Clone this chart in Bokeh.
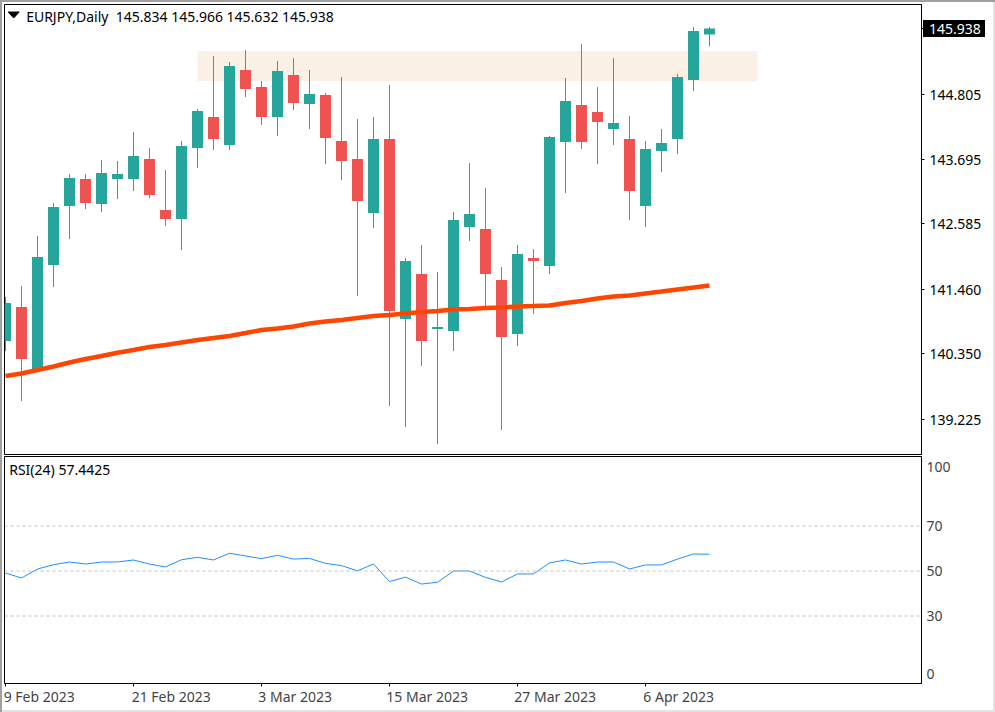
from bokeh.plotting import figure
from bokeh.layouts import column
from bokeh.models import ColumnDataSource, Div, FixedTicker, Label, Range1d, Span
from bokeh.embed import file_html
from bokeh.resources import INLINE

FONT = "Noto Sans"
FS = "14px"
UP = "#26A69A"
DOWN = "#EF5350"

opens = [140.569,141.153,140.088,141.875,142.889,143.352,142.923,143.352,143.352,143.696,
         142.820,142.665,143.885,144.418,143.937,145.225,144.933,144.418,145.139,144.641,
         144.796,144.005,143.696,142.768,144.040,140.947,141.720,140.775,140.741,142.528,
         142.493,141.617,140.689,141.995,141.858,143.988,144.624,144.504,144.212,144.040,
         142.889,143.834,144.040,145.053,145.834]
highs = [141.325,141.514,142.373,142.940,143.438,143.438,143.679,143.662,144.160,143.885,
         143.507,144.005,144.555,145.466,145.363,145.569,145.036,145.380,145.431,145.225,
         144.830,145.105,144.383,144.418,144.968,141.995,142.218,141.754,142.785,143.627,
         143.198,141.840,142.218,142.150,144.091,145.088,145.672,144.933,145.431,144.435,
         144.005,144.212,145.157,145.964,145.966]
lows = [140.397,139.538,140.088,141.497,142.322,142.837,142.785,143.009,143.146,143.026,
        142.545,142.132,143.541,143.851,143.851,144.761,144.280,144.091,144.538,144.212,
        143.610,143.335,141.342,142.511,139.452,139.091,140.139,138.799,140.397,142.287,
        141.170,139.040,140.483,141.033,141.720,143.112,143.868,143.610,143.937,142.648,
        142.528,143.473,143.782,144.864,145.632]
closes = [141.222,140.260,142.012,142.871,143.370,142.940,143.456,143.438,143.748,143.078,
          142.665,143.919,144.521,144.040,145.294,144.899,144.418,145.208,144.658,144.813,
          144.057,143.662,142.974,144.040,141.084,141.944,140.569,140.809,142.648,142.751,
          141.720,140.638,142.064,141.944,144.074,144.693,143.988,144.332,144.315,143.146,
          143.868,143.971,145.105,145.895,145.938]
ma = [139.968,140.011,140.071,140.131,140.200,140.260,140.311,140.368,140.414,140.466,
      140.500,140.543,140.586,140.620,140.655,140.706,140.758,140.784,140.818,140.870,
      140.904,140.930,140.964,140.998,141.016,141.041,141.067,141.084,141.110,141.119,
      141.136,141.145,141.162,141.170,141.179,141.222,141.256,141.299,141.333,141.351,
      141.385,141.419,141.454,141.488,141.523]
rsi = [49.1,46.9,50.9,52.8,54.0,53.1,54.0,54.0,54.9,53.1,
       51.8,55.0,56.1,54.9,57.9,56.7,55.5,57.0,55.3,55.6,
       53.4,52.4,50.1,53.1,45.3,47.3,44.2,45.0,50.0,50.0,
       47.2,45.1,48.7,48.7,53.6,54.9,53.1,54.0,54.0,50.9,
       52.7,52.7,55.3,57.6,57.44]
price_ticks = [144.805,143.695,142.585,141.460,140.350,139.225]
rsi_levels = [30,50,70]
date_ticks = [0,8,16,24,32,40]
date_label_centres = [2.106,10.356,18.106,26.356,34.356,42.075]
date_labels = ["9 Feb 2023","21 Feb 2023","3 Mar 2023","15 Mar 2023","27 Mar 2023","6 Apr 2023"]
zone_price = (145.036,145.552)
zone_bars = (12.0,47.0)
x_range = (-0.0625,57.25)
y_range = (138.619,146.351)

idx = list(range(len(opens)))
colors = [UP if c >= o else DOWN for o, c in zip(opens, closes)]
src = ColumnDataSource(dict(x=idx, top=[max(o, c) for o, c in zip(opens, closes)],
                            bottom=[min(o, c) for o, c in zip(opens, closes)],
                            high=highs, low=lows, color=colors))

p1 = figure(width=995, height=455, frame_width=917, frame_height=450,
            output_backend="svg", toolbar_location=None, x_axis_location=None,
            y_axis_location="right", x_range=Range1d(*x_range), y_range=Range1d(*y_range),
            min_border_left=4, min_border_right=74, min_border_top=4, min_border_bottom=1,
            border_fill_color=None)
p1.grid.visible = False
p1.outline_line_color = "black"
p1.outline_line_width = 1
p1.quad(left=zone_bars[0], right=zone_bars[1], bottom=zone_price[0], top=zone_price[1],
        fill_color="#FAF0E6", line_color=None)
p1.segment("x", "high", "x", "low", source=src, color="color", line_width=1)
p1.vbar("x", 0.6875, "top", "bottom", source=src, fill_color="color", line_color=None)
p1.line(idx, ma, color="#FF4500", line_width=4.5)

ya = p1.yaxis[0]
ya.ticker = FixedTicker(ticks=[closes[-1]] + price_ticks)
ya.major_label_overrides = {closes[-1]: " "}
for v in price_ticks:
    ya.major_label_overrides[v] = f"{v:.3f}"
ya.major_tick_in = 0
ya.major_tick_out = 3
ya.minor_tick_out = 0
ya.minor_tick_in = 0
ya.major_label_standoff = 5
ya.major_label_text_font = FONT
ya.major_label_text_font_size = FS
ya.major_label_text_color = "black"
ya.axis_line_color = "black"

p1.patch([0.169, 0.856, 0.5125], [146.222, 146.222, 146.119], color="black")
p1.add_layout(Label(x=1.29, y=146.153, text="EURJPY,Daily\u00A0\u00A0145.834 145.966 145.632 145.938",
                    text_color="black", text_font=FONT, text_font_size=FS, text_baseline="middle"))

p2 = figure(width=995, height=257, frame_width=917, frame_height=227,
            output_backend="svg", toolbar_location=None, y_axis_location="right",
            x_range=p1.x_range, y_range=Range1d(0, 100.9),
            min_border_left=4, min_border_right=74, min_border_top=1, min_border_bottom=29,
            border_fill_color=None)
p2.grid.visible = False
p2.outline_line_color = "black"
for lv in rsi_levels:
    p2.add_layout(Span(location=lv, dimension="width", line_color="#C0C0C0",
                       line_dash=[3, 3], line_width=1))
p2.line(idx, rsi, color="#1E90FF", line_width=1)
p2.add_layout(Label(x=0.23, y=95.0, text="RSI(24) 57.4425", text_color="black",
                    text_font=FONT, text_font_size=FS, text_baseline="middle"))

ra = p2.yaxis[0]
ra.ticker = FixedTicker(ticks=[4.4, 30, 50, 70, 96.4])
ra.major_label_overrides = {4.4: "0", 30: "30", 50: "50", 70: "70", 96.4: "100"}
ra.major_tick_in = 0
ra.major_tick_out = 0
ra.minor_tick_in = 0
ra.minor_tick_out = 0
ra.major_label_standoff = 5
ra.major_label_text_font = FONT
ra.major_label_text_font_size = FS
ra.axis_line_color = "black"

xa = p2.xaxis[0]
xa.ticker = FixedTicker(ticks=date_label_centres, minor_ticks=date_ticks)
xa.major_label_overrides = dict(zip(date_label_centres, date_labels))
xa.major_tick_in = 0
xa.major_tick_out = 0
xa.minor_tick_in = 0
xa.minor_tick_out = 3
xa.minor_tick_line_color = "black"
xa.major_label_standoff = 0
xa.major_label_text_font = FONT
xa.major_label_text_font_size = FS
xa.axis_line_color = "black"

last_price = Div(text=f"{closes[-1]:.3f}", width=62, height=17, margin=0,
                 styles={"position": "absolute", "left": "923px", "top": "20px",
                         "z-index": "10", "background": "black", "color": "white",
                         "font-family": FONT, "font-size": FS, "line-height": "17px",
                         "padding-left": "6px", "box-sizing": "border-box"})

page = column(p1, p2, last_price, spacing=0,
              styles={"box-shadow": "inset 2px 2px 0 #A0A0A0, inset -2px -2px 0 #E3E3E3",
                      "background": "white", "position": "relative"})
open("out.html", "w").write(file_html(page, INLINE))
